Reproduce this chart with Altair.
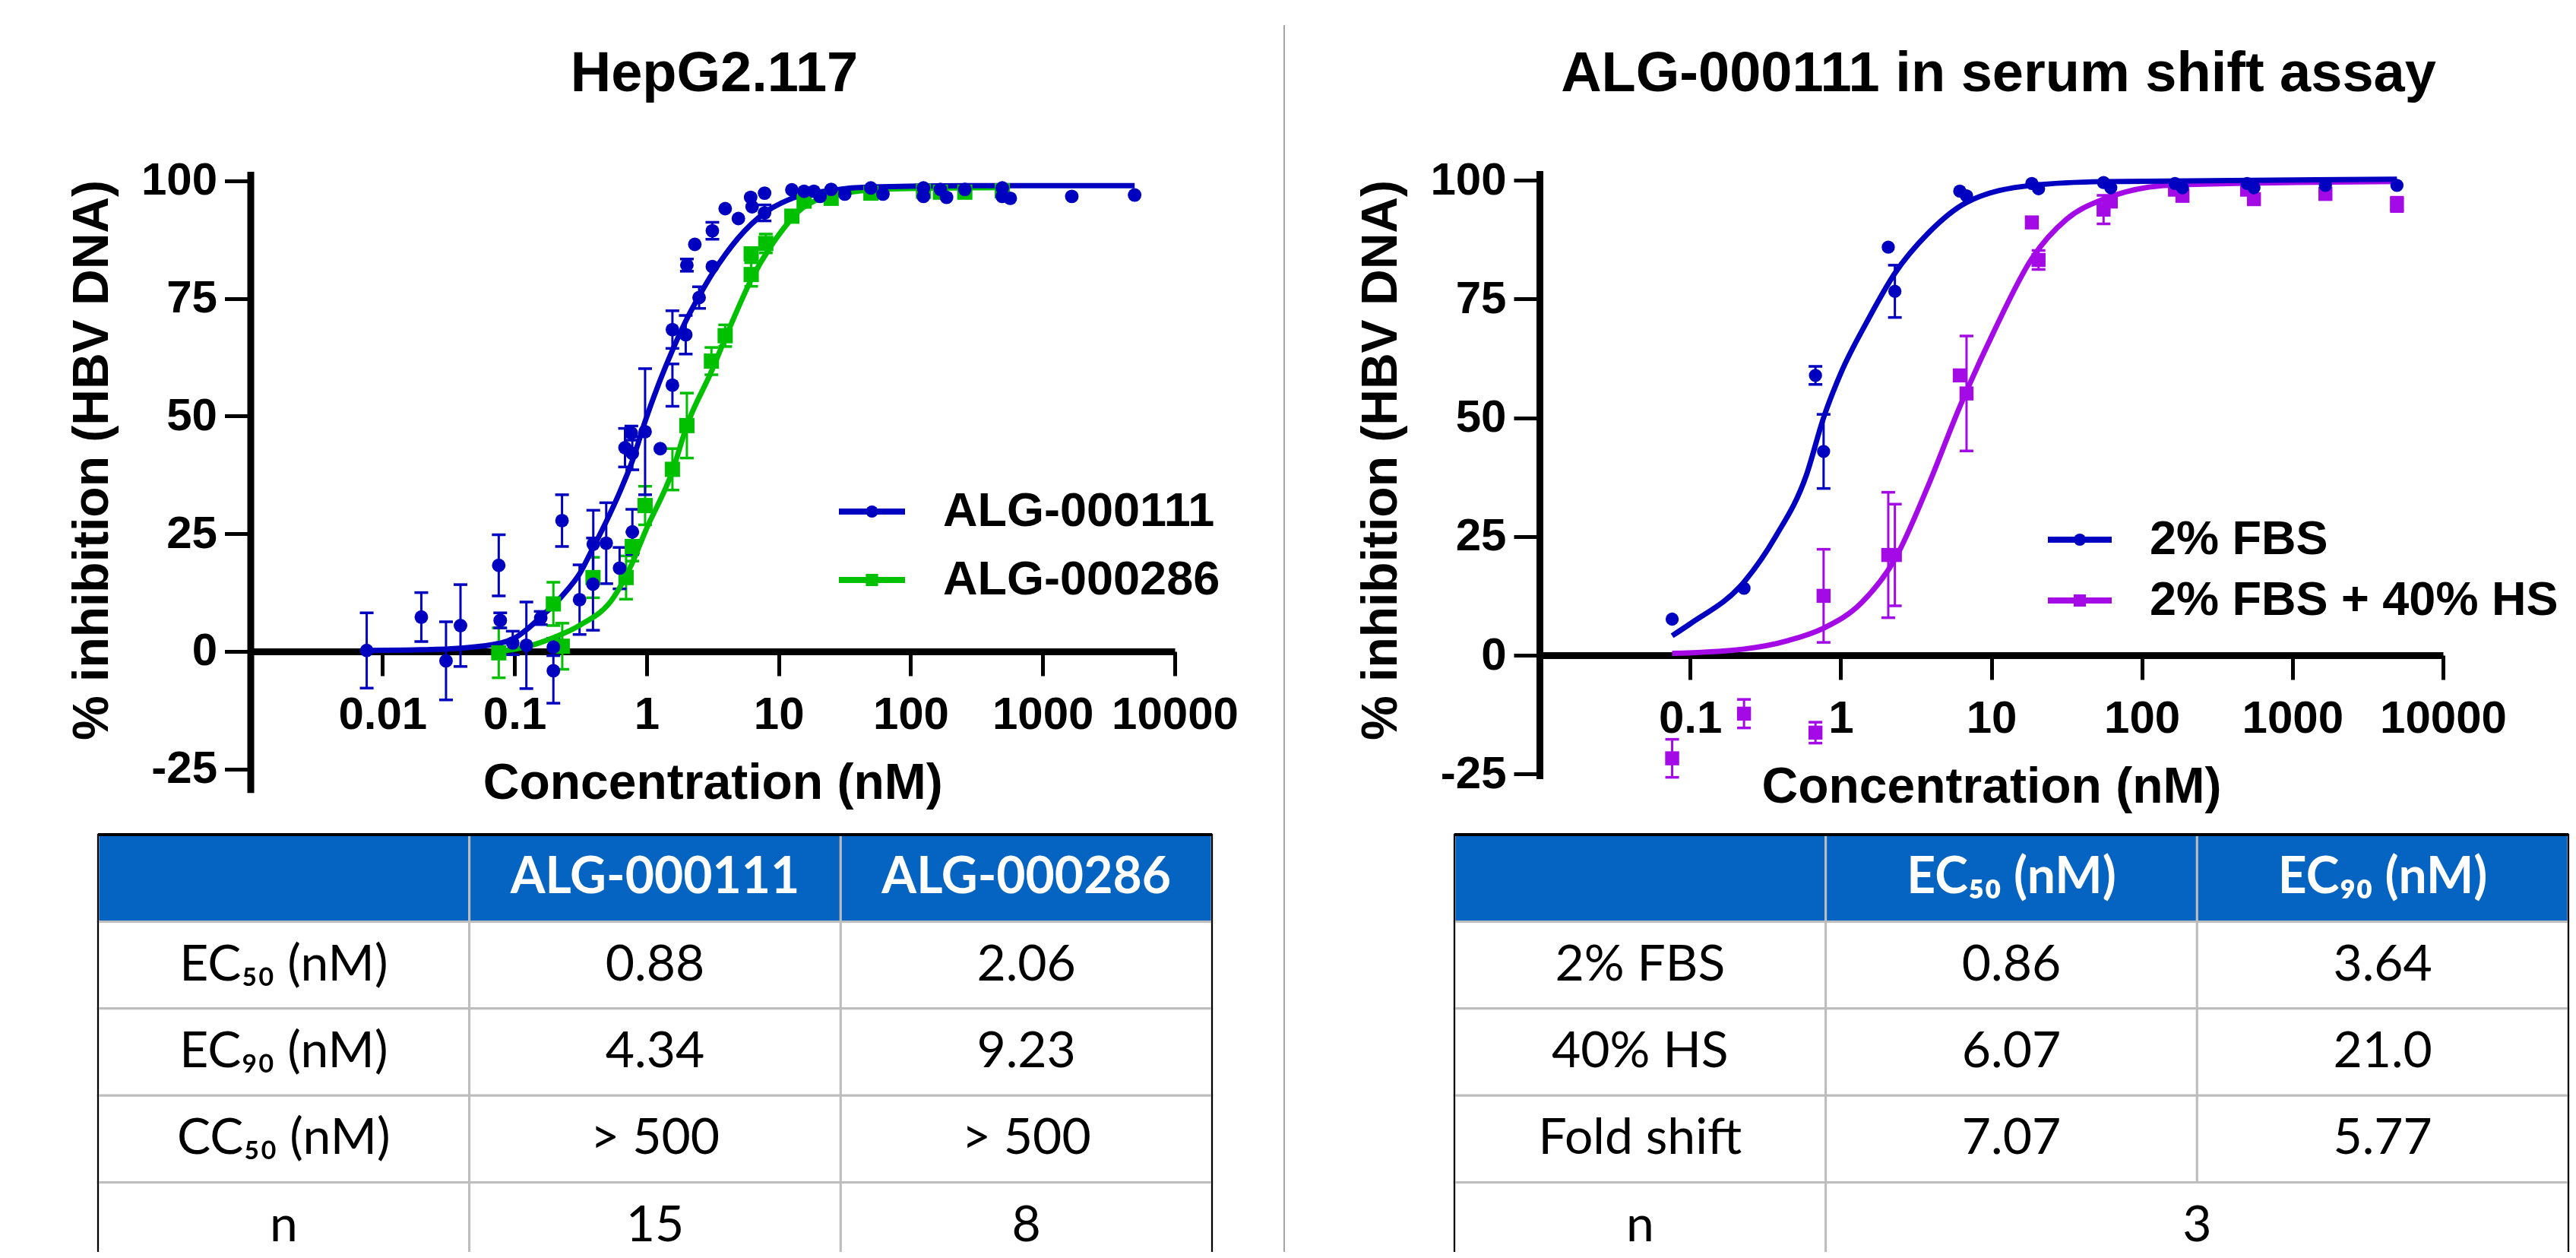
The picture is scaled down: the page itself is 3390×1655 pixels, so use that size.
import altair as alt
import pandas as pd

FONT = "Liberation Sans, Arial, Helvetica, sans-serif"
TFONT = "Lato, Carlito, Calibri, Open Sans, sans-serif"

BLUE = "#0000C0"
GREEN = "#00C000"
PURPLE = "#A40AE6"
HEADER_BLUE = "#0563C1"

TITLE_LEFT = "HepG2.117"
TITLE_RIGHT = "ALG-000111 in serum shift assay"
X_TITLE = "Concentration (nM)"
Y_TITLE = "% inhibition (HBV DNA)"

LEFT_SERIES = ["ALG-000111", "ALG-000286"]
RIGHT_SERIES = ["2% FBS", "2% FBS + 40% HS"]

X_TICKS_LEFT = [0.01, 0.1, 1, 10, 100, 1000, 10000]
X_TICKS_RIGHT = [0.1, 1, 10, 100, 1000, 10000]
Y_TICKS = [-25, 0, 25, 50, 75, 100]

# ---------------- Left panel: HepG2.117 ----------------
a111_conc = [0.0076, 0.0197, 0.0303, 0.039, 0.076, 0.078, 0.097, 0.123, 0.158, 0.197,
             0.197, 0.229, 0.311, 0.393, 0.395, 0.495, 0.625, 0.781, 0.687, 0.767,
             0.78, 0.975, 1.27, 1.57, 1.57, 1.98, 2.02, 2.50, 2.32, 3.15,
             3.15, 3.94, 4.96, 6.14, 6.3, 7.83, 7.83, 12.6, 15.6, 18.5,
             20.6, 25.0, 31.7, 49.9, 61.7, 125, 125, 168, 187, 257,
             494, 494, 568, 1660, 4966]
a111_inh = [0.2, 7.3, -2.0, 5.5, 18.3, 6.6, 1.8, 1.3, 7.1, 0.9,
            -4.1, 27.8, 11.0, 14.3, 22.8, 23.0, 17.7, 25.4, 43.3, 46.4,
            42.1, 46.7, 43.1, 68.4, 56.6, 67.3, 82.1, 75.2, 86.5, 89.4,
            81.8, 94.1, 92.0, 96.5, 94.5, 97.4, 93.2, 98.1, 97.8, 97.8,
            96.7, 98.2, 97.2, 98.5, 97.2, 98.5, 96.7, 98.2, 96.5, 98.2,
            98.5, 96.7, 96.3, 96.7, 97.0]
a111_sem = [8.0, 5.2, 8.3, 8.7, 6.5, 1.6, 2.5, 9.2, 1.4, 1.8,
            6.9, 5.5, 7.4, 9.8, 7.2, 8.6, 4.4, 4.8, 4.1, 1.5,
            3.5, 13.4, 0, 4.0, 4.5, 4.1, 1.3, 2.3, 0, 1.8,
            0, 0, 0, 0, 0, 0, 1.7, 0, 0, 0,
            0, 0, 0, 0, 0, 0, 0, 0, 0, 0,
            0, 0, 0, 0, 0]

a286_conc = [0.076, 0.197, 0.23, 0.393, 0.70, 0.78, 0.975, 1.57, 2.02, 3.1,
             3.94, 6.2, 6.2, 8.0, 12.6, 15.6, 25, 50, 125, 168, 257, 494]
a286_inh = [-0.3, 10.1, 1.1, 15.7, 15.7, 22.3, 31.0, 38.7, 48.0, 61.7,
            67.1, 80.1, 84.5, 86.7, 92.5, 95.7, 96.3, 97.4, 97.8, 97.6, 97.6, 97.9]
a286_sem = [5.3, 4.6, 4.9, 4.3, 4.6, 3.1, 4.1, 4.4, 6.9, 2.9,
            2.3, 2.5, 1.0, 2.0, 1.0, 0, 0, 0, 0, 0, 0, 0]

# fitted curves
a111_fit_conc = [0.0076, 0.0197, 0.039, 0.076, 0.1, 0.123, 0.158, 0.197, 0.25, 0.311,
                 0.393, 0.495, 0.625, 0.781, 0.975, 1.27, 1.57, 1.98, 2.5, 3.15,
                 3.94, 4.96, 7.83, 12.6, 25, 50, 500, 4966]
a111_fit_inh = [0.2, 0.35, 0.7, 1.7, 2.8, 4.6, 7.3, 9.8, 13.0, 16.5,
                22.0, 27.6, 33.8, 40.5, 48.9, 57.7, 64.0, 70.2, 75.5, 80.3,
                84.3, 87.9, 93.2, 96.3, 98.0, 98.7, 99.0, 99.0]
a286_fit_conc = [0.076, 0.123, 0.2, 0.31, 0.57, 0.78, 0.975, 1.57, 2.02, 3.1,
                 4.2, 6.2, 9.9, 15.6, 31.7, 73, 494]
a286_fit_inh = [0.0, 1.0, 3.0, 5.5, 11.7, 18.8, 25.4, 38.3, 48.0, 59.5,
                68.4, 79.0, 88.3, 94.5, 97.4, 98.3, 98.6]

# ---------------- Right panel: serum shift ----------------
shift_conc = [0.076, 0.228, 0.68, 0.77, 2.07, 2.29, 6.18, 6.85, 18.6, 20.6,
              55.7, 62.2, 166, 186, 500, 555, 1656, 4943]
fbs_inh = [7.6, 14.1, 58.9, 42.9, 85.9, 76.6, 97.7, 96.7, 99.3, 98.2,
           99.5, 98.4, 99.3, 98.4, 99.3, 98.4, 98.9, 98.9]
fbs_sem = [0, 0, 1.9, 7.8, 0, 5.5, 0, 0, 0, 0, 0, 0, 0, 0, 0, 0, 0, 0]
hs_inh = [-21.7, -12.3, -16.3, 12.5, 21.1, 21.1, 58.9, 55.1, 91.1, 83.2,
          93.8, 95.5, 98.0, 96.7, 98.0, 96.0, 97.1, 94.9]
hs_sem = [4.0, 3.0, 2.2, 9.8, 13.2, 10.7, 0, 12.1, 0, 2.0, 3.0, 0, 0, 0, 0, 0, 0, 1.5]

fbs_fit_conc = [0.076, 0.1, 0.228, 0.37, 0.59, 0.77, 1.0, 1.5, 2.29, 3.8, 6.85, 18.6, 55.7, 4943]
fbs_fit_inh = [4.1, 6.6, 15.4, 25.0, 37.8, 50.0, 59.3, 70.3, 80.4, 88.8, 95.3, 98.9, 99.7, 100.2]
hs_fit_conc = [0.076, 0.228, 0.45, 0.77, 1.37, 2.29, 3.8, 6.18, 10.4, 18.6, 31.7, 55.7, 166, 4943]
hs_fit_inh = [0.4, 1.3, 3.1, 5.7, 11.0, 20.2, 35.6, 52.3, 68.1, 83.5, 91.8, 96.0, 99.0, 99.7]

# ---------------- Tables ----------------
LT_HEADER = ["", "ALG-000111", "ALG-000286"]
LT_ROWS = ["EC\u2085\u2080 (nM)", "EC\u2089\u2080 (nM)", "CC\u2085\u2080 (nM)", "n"]
LT_A111 = ["0.88", "4.34", "> 500", "15"]
LT_A286 = ["2.06", "9.23", "> 500", "8"]

RT_HEADER = ["", "EC\u2085\u2080 (nM)", "EC\u2089\u2080 (nM)"]
RT_ROWS = ["2% FBS", "40% HS", "Fold shift", "n"]
RT_EC50 = ["0.86", "6.07", "7.07"]
RT_EC90 = ["3.64", "21.0", "5.77"]
RT_N = "3"

H = 1639
W = 3374


def pts_frame(conc, inh, sem):
    df = pd.DataFrame({"conc": conc, "inh": inh, "sem": sem})
    df["lo"] = df["inh"] - df["sem"]
    df["hi"] = df["inh"] + df["sem"]
    return df


def fit_frame(conc, inh):
    return pd.DataFrame({"conc": conc, "inh": inh})


def axis_layer(pts, xs, ys, xvals, x_off, y_off):
    xa = alt.Axis(orient="bottom", offset=x_off, values=xvals, labelExpr="'' + datum.value",
                  title=X_TITLE, grid=False, domainColor="black", domainWidth=9,
                  tickColor="black", tickWidth=5, tickSize=32, labelFontSize=60,
                  labelPadding=22, labelFlush=False, labelOverlap=False,
                  titleFontSize=66, titlePadding=28)
    ya = alt.Axis(orient="left", offset=y_off, values=Y_TICKS, labelExpr="'' + datum.value",
                  title=Y_TITLE, grid=False, domainColor="black", domainWidth=9,
                  tickColor="black", tickWidth=5, tickSize=34, labelFontSize=60,
                  labelPadding=10, labelFlush=False, labelOverlap=False,
                  titleFontSize=66, titlePadding=30, titleY=597)
    return alt.Chart(pts).mark_point(opacity=0).encode(
        x=alt.X("conc:Q", scale=xs, axis=xa),
        y=alt.Y("inh:Q", scale=ys, axis=ya))


def series_parts(pts, fit, color, shape, size, xs, ys):
    X = alt.X("conc:Q", scale=xs, axis=None)
    eb = pts[pts["sem"] > 0]
    bars = alt.Chart(eb).mark_rule(color=color, strokeWidth=3).encode(
        x=X, y=alt.Y("lo:Q", scale=ys, axis=None), y2="hi:Q")
    caps = [alt.Chart(eb).mark_tick(color=color, orient="horizontal", size=18,
                                    thickness=3.5, opacity=1).encode(
        x=X, y=alt.Y(f"{f}:Q", scale=ys, axis=None)) for f in ("lo", "hi")]
    line = alt.Chart(fit).mark_line(color=color, strokeWidth=7, interpolate="monotone").encode(
        x=X, y=alt.Y("inh:Q", scale=ys, axis=None))
    dots = alt.Chart(pts).mark_point(filled=True, opacity=1, shape=shape, size=size,
                                     color=color, strokeWidth=0).encode(
        x=X, y=alt.Y("inh:Q", scale=ys, axis=None))
    return [bars] + caps, line, dots


def panel(a_pts, a_fit, a_color, a_shape, a_size,
          b_pts, b_fit, b_color, b_shape, b_size,
          xs, ys, xvals, x_off, y_off):
    a_eb, a_line, a_dots = series_parts(a_pts, a_fit, a_color, a_shape, a_size, xs, ys)
    b_eb, b_line, b_dots = series_parts(b_pts, b_fit, b_color, b_shape, b_size, xs, ys)
    return [axis_layer(a_pts, xs, ys, xvals, x_off, y_off)] + b_eb + a_eb + \
        [b_line, a_line, b_dots, a_dots]


def legend_parts(series, colors, shapes, xr, yr, label_at):
    df = pd.DataFrame({"series": series})
    lx = alt.Scale(domain=[0, 1], range=xr, nice=False, zero=False)
    ly = alt.Scale(type="point", domain=series, range=yr, padding=0)
    Y = alt.Y("series:N", scale=ly, axis=None)
    C = alt.Color("series:N", scale=alt.Scale(domain=series, range=colors), legend=None)
    line = alt.Chart(df).mark_rule(strokeWidth=8).encode(
        x=alt.XDatum(0, scale=lx, axis=None, type="quantitative"),
        x2=alt.X2Datum(1), y=Y, color=C)
    mark = alt.Chart(df).mark_point(filled=True, opacity=1, strokeWidth=0, size=260).encode(
        x=alt.XDatum(0.5, scale=lx, axis=None, type="quantitative"), y=Y, color=C,
        shape=alt.Shape("series:N", scale=alt.Scale(domain=series, range=shapes), legend=None))
    text = alt.Chart(df).mark_text(align="left", baseline="middle", font=FONT,
                                   fontWeight="bold", fontSize=63, color="black").encode(
        x=alt.XDatum(label_at, scale=lx, axis=None, type="quantitative"), y=Y, text="series:N")
    return [line, mark, text]


def table_cells(header, row_labels, columns, merged_last=None):
    recs = []
    for c, h in enumerate(header):
        recs.append({"r0": 0, "r1": 1, "c0": c, "c1": c + 1, "txt": h, "kind": "header"})
    for i, lab in enumerate(row_labels):
        r = i + 1
        recs.append({"r0": r, "r1": r + 1, "c0": 0, "c1": 1, "txt": lab, "kind": "body"})
        if merged_last is not None and i == len(row_labels) - 1:
            recs.append({"r0": r, "r1": r + 1, "c0": 1, "c1": len(header),
                         "txt": merged_last, "kind": "body"})
        else:
            for j, col in enumerate(columns):
                recs.append({"r0": r, "r1": r + 1, "c0": j + 1, "c1": j + 2,
                             "txt": col[i], "kind": "body"})
    df = pd.DataFrame(recs)
    df["cx"] = (df["c0"] + df["c1"]) / 2
    df["cy"] = (df["r0"] + df["r1"]) / 2
    return df


def table_parts(cells, ncols, nrows, xr, yr):
    tx = alt.Scale(domain=[0, ncols], range=xr, nice=False, zero=False)
    ty = alt.Scale(domain=[0, nrows], range=yr, nice=False, zero=False)
    rects = alt.Chart(cells).mark_rect(stroke="#BDBDBD", strokeWidth=3).encode(
        x=alt.X("c0:Q", scale=tx, axis=None), x2="c1:Q",
        y=alt.Y("r0:Q", scale=ty, axis=None), y2="r1:Q",
        fill=alt.Fill("kind:N", scale=alt.Scale(domain=["header", "body"],
                                                range=[HEADER_BLUE, "#FFFFFF"]), legend=None))
    frame = pd.DataFrame({"c0": [0], "c1": [ncols], "r0": [0], "r1": [nrows]})
    outline = alt.Chart(frame).mark_rect(fillOpacity=0, stroke="#000000", strokeWidth=2).encode(
        x=alt.X("c0:Q", scale=tx, axis=None), x2="c1:Q",
        y=alt.Y("r0:Q", scale=ty, axis=None), y2="r1:Q")
    top = alt.Chart(frame).mark_rule(color="#000000", strokeWidth=4).encode(
        x=alt.X("c0:Q", scale=tx, axis=None), x2="c1:Q",
        y=alt.Y("r0:Q", scale=ty, axis=None))
    head_txt = alt.Chart(cells).transform_filter("datum.kind == 'header'").mark_text(
        font=TFONT, fontSize=66, fontWeight="bold", color="white",
        align="center", baseline="middle").encode(
        x=alt.X("cx:Q", scale=tx, axis=None), y=alt.Y("cy:Q", scale=ty, axis=None), text="txt:N")
    body_txt = alt.Chart(cells).transform_filter("datum.kind == 'body'").mark_text(
        font=TFONT, fontSize=66, color="black", align="center", baseline="middle").encode(
        x=alt.X("cx:Q", scale=tx, axis=None), y=alt.Y("cy:Q", scale=ty, axis=None), text="txt:N")
    return [rects, outline, top, head_txt, body_txt]


# scales (pixel ranges place each panel on the page)
LX = alt.Scale(type="log", domain=[0.001, 10000], range=[321.5, 1538], nice=False)
LY = alt.Scale(domain=[-30, 102], range=[1034.7, 217.6], nice=False, zero=False)
RX = alt.Scale(type="log", domain=[0.01, 10000], range=[2018, 3207], nice=False)
RY = alt.Scale(domain=[-26, 102], range=[1016.5, 216.5], nice=False, zero=False)

left_panel = panel(pts_frame(a111_conc, a111_inh, a111_sem), fit_frame(a111_fit_conc, a111_fit_inh),
                   BLUE, "circle", 320,
                   pts_frame(a286_conc, a286_inh, a286_sem), fit_frame(a286_fit_conc, a286_fit_inh),
                   GREEN, "square", 400,
                   LX, LY, X_TICKS_LEFT, -(H - 849), -321.5)

right_panel = panel(pts_frame(shift_conc, fbs_inh, fbs_sem), fit_frame(fbs_fit_conc, fbs_fit_inh),
                    BLUE, "circle", 300,
                    pts_frame(shift_conc, hs_inh, hs_sem), fit_frame(hs_fit_conc, hs_fit_inh),
                    PURPLE, "square", 340,
                    RX, RY, X_TICKS_RIGHT, -(H - 854), -2018)

left_legend = legend_parts(LEFT_SERIES, [BLUE, GREEN], ["circle", "square"],
                           [1096, 1183], [665, 755], 1.575)
right_legend = legend_parts(RIGHT_SERIES, [BLUE, PURPLE], ["circle", "square"],
                            [2687, 2771], [702, 782], 1.595)

left_table = table_parts(table_cells(LT_HEADER, LT_ROWS, [LT_A111, LT_A286]),
                         3, 5, [121, 1587], [1090, 1662])
right_table = table_parts(table_cells(RT_HEADER, RT_ROWS, [RT_EC50, RT_EC90], merged_last=RT_N),
                          3, 5, [1906, 3372], [1090, 1662])

title_left = alt.Chart(pd.DataFrame({"t": [TITLE_LEFT]})).mark_text(
    font=FONT, fontWeight="bold", fontSize=74, align="center", baseline="middle", color="black"
).encode(x=alt.value(932), y=alt.value(90), text="t:N")
title_right = alt.Chart(pd.DataFrame({"t": [TITLE_RIGHT]})).mark_text(
    font=FONT, fontWeight="bold", fontSize=74, align="center", baseline="middle", color="black"
).encode(x=alt.value(2622), y=alt.value(90), text="t:N")
divider = alt.Chart(pd.DataFrame({"d": [0]})).mark_rule(color="#A6A6A6", strokeWidth=2).encode(
    x=alt.value(1682), y=alt.value(25), y2=alt.value(H))

layers = (left_panel + right_panel + left_legend + right_legend + left_table + right_table
          + [title_left, title_right, divider])

chart = alt.layer(*layers).resolve_scale(
    x="independent", y="independent", color="independent", shape="independent", fill="independent"
).properties(
    width=W, height=H, autosize=alt.AutoSizeParams(type="none"), padding=0, background="white"
).configure_view(strokeWidth=0).configure_axis(
    labelFont=FONT, titleFont=FONT, labelFontWeight="bold", titleFontWeight="bold",
    labelColor="black", titleColor="black"
)

chart.save("out.html", embed_options={"renderer": "svg", "actions": False})
